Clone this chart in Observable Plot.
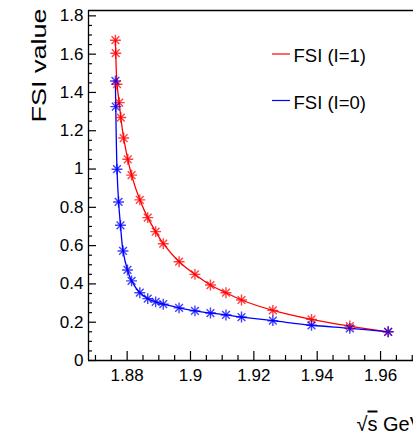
<!DOCTYPE html>
<html><head><meta charset="utf-8">
<script src="https://cdn.jsdelivr.net/npm/d3@7"></script>
<script src="https://cdn.jsdelivr.net/npm/@observablehq/plot@0.6"></script>
<style>
body{margin:0;background:#fff;}
#chart svg{font-family:"Liberation Sans",Arial,Helvetica,sans-serif;}
</style>
</head><body><div id="chart"></div>
<script>
// ---- data ----
const seriesNames = ["FSI (I=1)", "FSI (I=0)"];
const seriesColors = ["#ff0000", "#0000ff"];

const xI1 = [1.8763, 1.8764, 1.8768, 1.8775, 1.8780, 1.8789, 1.8802, 1.8814, 1.8840, 1.8865, 1.8890,
             1.8914, 1.8964, 1.9014, 1.9063, 1.9112, 1.9161, 1.9260, 1.9382, 1.9503, 1.9624];
const yI1 = [1.673, 1.605, 1.443, 1.347, 1.269, 1.162, 1.051, 0.968, 0.839, 0.746, 0.673,
             0.610, 0.516, 0.450, 0.394, 0.354, 0.316, 0.262, 0.215, 0.180, 0.150];

const xI0 = [1.8763, 1.8764, 1.8768, 1.8773, 1.8779, 1.8787, 1.8801, 1.8814, 1.8840, 1.8865, 1.8890,
             1.8914, 1.8964, 1.9014, 1.9063, 1.9112, 1.9161, 1.9260, 1.9382, 1.9503, 1.9624];
const yI0 = [1.460, 1.326, 0.999, 0.828, 0.706, 0.572, 0.473, 0.416, 0.354, 0.323, 0.306,
             0.294, 0.275, 0.259, 0.248, 0.238, 0.227, 0.208, 0.184, 0.168, 0.150];

const xMajorTicks = [1.88, 1.90, 1.92, 1.94, 1.96];
const xTickLabels = ["1.88", "1.9", "1.92", "1.94", "1.96"];
const yMajorTicks = [0, 0.2, 0.4, 0.6, 0.8, 1.0, 1.2, 1.4, 1.6, 1.8];
const yTickLabels = ["0", "0.2", "0.4", "0.6", "0.8", "1", "1.2", "1.4", "1.6", "1.8"];
const xTitle = "\u221As GeV";
const yTitle = "FSI value";

// ---- build table ----
const data = [
  ...xI1.map((x, i) => ({x, y: yI1[i], s: seriesNames[0]})),
  ...xI0.map((x, i) => ({x, y: yI0[i], s: seriesNames[1]}))
];

// ---- layout ----
const W = 413, H = 432, mL = 88, mR = 0, mT = 10, mB = 72;
const fw = W - mL - mR, fh = H - mT - mB;
const xDomain = [1.8678, 1.9704], yDomain = [0, 1.828];
const xMinor = d3.range(1.87, 1.9702, 0.005).filter(v => !xMajorTicks.some(t => Math.abs(t - v) < 1e-6));
const yMinor = d3.range(0, 1.8001, 0.05).filter(v => !yMajorTicks.some(t => Math.abs(t - v) < 1e-6));
const xFmt = v => xTickLabels[xMajorTicks.findIndex(t => Math.abs(t - v) < 1e-9)];
const yFmt = v => yTickLabels[yMajorTicks.findIndex(t => Math.abs(t - v) < 1e-9)];

const plot = Plot.plot({
  width: W, height: H,
  marginLeft: mL, marginRight: mR, marginTop: mT, marginBottom: mB,
  x: {domain: xDomain},
  y: {domain: yDomain},
  color: {domain: seriesNames, range: seriesColors},
  style: {background: "#fff", color: "#000", fontFamily: "'Liberation Sans', Arial, sans-serif"},
  marks: [
    Plot.axisY({ticks: yMajorTicks, tickSize: 0, tickPadding: 5, tickFormat: yFmt, fontSize: 17, label: null}),
    Plot.axisX({ticks: xMajorTicks, tickSize: 0, tickPadding: 8, tickFormat: xFmt, fontSize: 17, label: null}),
    Plot.tickY(yMajorTicks, {y: d => d, insetRight: fw - 8, stroke: "#000", strokeWidth: 1.2}),
    Plot.tickY(yMinor, {y: d => d, insetRight: fw - 4, stroke: "#000", strokeWidth: 1.2}),
    Plot.tickX(xMajorTicks, {x: d => d, insetTop: fh - 9, stroke: "#000", strokeWidth: 1.2}),
    Plot.tickX(xMinor, {x: d => d, insetTop: fh - 5, stroke: "#000", strokeWidth: 1.2}),
    Plot.ruleX([xDomain[0]], {stroke: "#000", strokeWidth: 1.3}),
    Plot.ruleY([yDomain[0]], {stroke: "#000", strokeWidth: 1.3}),
    Plot.ruleY([yDomain[1]], {stroke: "#000", strokeWidth: 1.3}),
    Plot.line(data, {x: "x", y: "y", stroke: "s", z: "s", curve: "catmull-rom", strokeWidth: 1.3}),
    Plot.dot(data, {x: "x", y: "y", stroke: "s", symbol: "plus", r: 3.6, strokeWidth: 1.4, strokeOpacity: 0.75}),
    Plot.dot(data, {x: "x", y: "y", stroke: "s", symbol: "times", r: 3.6, strokeWidth: 1.4, strokeOpacity: 0.75}),
    Plot.text([yTitle], {frameAnchor: "top-left", dx: 45 - mL, dy: 8 - mT, rotate: -90, textAnchor: "end",
                         lineAnchor: "bottom", fontSize: 20, fill: "#000", className: "ytitle"}),
    Plot.text([xTitle], {frameAnchor: "bottom-right", dx: 356 - W, dy: 430 - (H - mB), textAnchor: "start",
                         lineAnchor: "bottom", fontSize: 20, fill: "#000", className: "xtitle"}),
    Plot.text([seriesNames[0]], {frameAnchor: "top-left", dx: 293 - mL, dy: 55.8 - mT, textAnchor: "start",
                                 lineAnchor: "middle", fontSize: 18.5, fill: "#000"}),
    Plot.text([seriesNames[1]], {frameAnchor: "top-left", dx: 293 - mL, dy: 102.5 - mT, textAnchor: "start",
                                 lineAnchor: "middle", fontSize: 18.5, fill: "#000"})
  ]
});

document.getElementById("chart").appendChild(plot);

// stretch y title along its length like the reference
d3.select(plot).selectAll("g.ytitle text").each(function() {
  const t = d3.select(this).attr("transform") || "";
  d3.select(this).attr("transform", t + " scale(1.35,1)");
});
// overline over "s" of the square root in the x title
d3.select(plot).selectAll("g.xtitle text").each(function() {
  const el = d3.select(this);
  const txt = el.text();
  el.text(null);
  el.append("tspan").text(txt.slice(0, 1));
  el.append("tspan").attr("text-decoration", "overline").text(txt.slice(1, 2));
  el.append("tspan").text(txt.slice(2));
});
// legend line swatches
const svg = d3.select(plot);
[[seriesColors[0], 54], [seriesColors[1], 100.5]].forEach(([c, y]) => {
  svg.append("line").attr("x1", 272).attr("x2", 290).attr("y1", y).attr("y2", y)
     .attr("stroke", c).attr("stroke-width", 1.2);
});
</script>
</body></html>
